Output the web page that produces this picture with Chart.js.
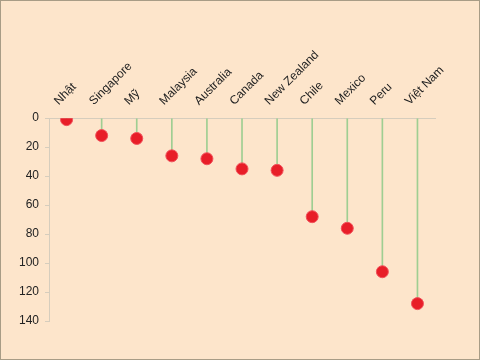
<!DOCTYPE html>
<html lang="vi">
<head>
  <title>Lollipop</title>
  <meta charset="utf-8">
  <style>
    html, body { margin: 0; padding: 0; background: #FDE5CB; }
    #wrap { width: 480px; height: 360px; box-sizing: border-box; border: 1px solid #A89C86; position: relative; }
  </style>
</head>
<body>
  <div id="wrap"><canvas id="myChart"></canvas></div>
  <script src="https://cdn.jsdelivr.net/npm/chart.js@4"></script>
  <script>
    const countries = ['Nhật', 'Singapore', 'Mỹ', 'Malaysia', 'Australia', 'Canada', 'New Zealand', 'Chile', 'Mexico', 'Peru', 'Việt Nam'];
    const values = [1, 12, 14, 26, 28, 35, 36, 68, 76, 106, 128];
    const yTicks = [0, 20, 40, 60, 80, 100, 120, 140];

    Chart.defaults.font.family = '"Liberation Sans", Arial, sans-serif';
    Chart.defaults.font.size = 12;
    Chart.defaults.color = '#222';

    var ctx = document.getElementById('myChart');
    var myChart = new Chart(ctx, {
      type: 'bar',
      data: {
        labels: countries,
        datasets: [{
          type: 'line',
          label: 'điểm',
          data: values,
          showLine: false,
          pointRadius: 6,
          pointHoverRadius: 6,
          pointBackgroundColor: '#E81E28',
          pointBorderColor: '#F0505A',
          pointBorderWidth: 1,
          order: 0
        }, {
          label: 'thân',
          data: values.map(v => [0, v]),
          backgroundColor: '#9FCE92',
          barThickness: 1,
          order: 1
        }]
      },
      options: {
        responsive: true,
        maintainAspectRatio: false,
        animation: false,
        layout: { padding: { left: 12, right: 44, top: 45, bottom: 38 } },
        plugins: { legend: { display: false }, tooltip: { enabled: false } },
        scales: {
          x: {
            position: 'top',
            grid: { display: false },
            border: { display: true, color: '#D6CDBD', width: 1 },
            ticks: { minRotation: 45, maxRotation: 45, padding: 2 }
          },
          y: {
            reverse: true,
            min: 0,
            max: 140,
            afterBuildTicks: axis => { axis.ticks = yTicks.map(v => ({ value: v })); },
            grid: { drawOnChartArea: false, drawTicks: true, tickLength: 4, color: '#D6CDBD' },
            border: { display: true, color: '#D6CDBD', width: 1 },
            ticks: { padding: 6 }
          }
        }
      }
    });
  </script>
</body>
</html>
